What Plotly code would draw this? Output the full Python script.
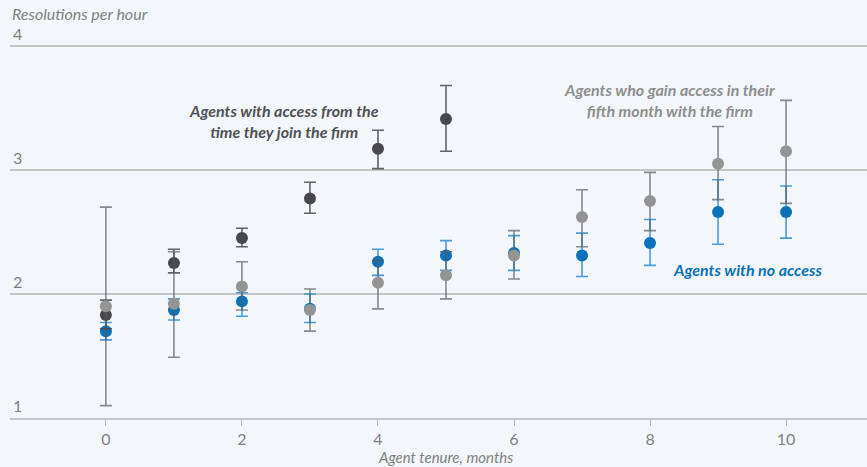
import plotly.graph_objects as go

months = [0, 1, 2, 3, 4, 5, 6, 7, 8, 9, 10]

# Agents with access from the time they join the firm (months 0-5)
early_x = [0, 1, 2, 3, 4, 5]
early_y = [1.83, 2.25, 2.45, 2.77, 3.17, 3.41]
early_hi = [1.95, 2.36, 2.53, 2.90, 3.32, 3.68]
early_lo = [1.72, 2.17, 2.38, 2.65, 3.01, 3.15]

# Agents who gain access in their fifth month
late_y = [1.90, 1.92, 2.06, 1.87, 2.09, 2.15, 2.31, 2.62, 2.75, 3.05, 3.15]
late_hi = [2.70, 2.34, 2.26, 2.04, 2.27, 2.34, 2.51, 2.84, 2.98, 3.35, 3.56]
late_lo = [1.10, 1.49, 1.87, 1.70, 1.88, 1.96, 2.12, 2.38, 2.51, 2.76, 2.73]

# Agents with no access
none_y = [1.70, 1.87, 1.94, 1.88, 2.26, 2.31, 2.33, 2.31, 2.41, 2.66, 2.66]
none_hi = [1.77, 1.96, 2.01, 2.00, 2.36, 2.43, 2.47, 2.49, 2.60, 2.92, 2.87]
none_lo = [1.63, 1.79, 1.82, 1.77, 2.15, 2.19, 2.19, 2.14, 2.23, 2.40, 2.45]

x_ticks = [0, 2, 4, 6, 8, 10]
y_ticks = [1, 2, 3, 4]

FONT = "Lato"
BG = "#f3f7fb"

def errs(y, hi, lo):
    return [h - v for h, v in zip(hi, y)], [v - l for v, l in zip(y, lo)]

fig = go.Figure()

up, dn = errs(none_y, none_hi, none_lo)
fig.add_trace(go.Scatter(
    x=months, y=none_y, mode="markers",
    marker=dict(color="#0a72ba", size=12),
    error_y=dict(type="data", symmetric=False, array=up, arrayminus=dn,
                 color="rgba(40,140,210,0.85)", thickness=1.6, width=6),
    showlegend=False, name="Agents with no access"))

up, dn = errs(early_y, early_hi, early_lo)
fig.add_trace(go.Scatter(
    x=early_x, y=early_y, mode="markers",
    marker=dict(color="#47474c", size=12),
    error_y=dict(type="data", symmetric=False, array=up, arrayminus=dn,
                 color="rgba(70,70,75,0.85)", thickness=1.6, width=6),
    showlegend=False, name="Agents with access from the time they join the firm"))

up, dn = errs(late_y, late_hi, late_lo)
fig.add_trace(go.Scatter(
    x=months, y=late_y, mode="markers",
    marker=dict(color="#949494", size=12),
    error_y=dict(type="data", symmetric=False, array=up, arrayminus=dn,
                 color="rgba(90,90,90,0.7)", thickness=1.6, width=6),
    showlegend=False, name="Agents who gain access in their fifth month"))

# plot area: y=1 at 418px, y=4 at 46px; top margin 21px -> height 397px
PH = 397.0
def py(px):
    return (418 - px) / PH

annotations = [
    dict(x=2.62, y=3.39, xref="x", yref="y",
         text="<b><i>Agents with access from the<br>time they join the firm</i></b>",
         showarrow=False, font=dict(family=FONT, size=16, color="#505055"), align="center"),
    dict(x=8.29, y=3.565, xref="x", yref="y",
         text="<b><i>Agents who gain access in their<br>fifth month with the firm</i></b>",
         showarrow=False, font=dict(family=FONT, size=16, color="#8e8e8e"), align="center"),
    dict(x=9.44, y=2.20, xref="x", yref="y",
         text="<b><i>Agents with no access</i></b>",
         showarrow=False, font=dict(family=FONT, size=16, color="#0a72ba"), align="center"),
    dict(x=5, y=py(457), xref="x", yref="paper",
         text="<i>Agent tenure, months</i>", showarrow=False,
         font=dict(family=FONT, size=15, color="#808080"), yanchor="middle"),
    dict(x=0, y=py(14), xref="paper", yref="paper", xanchor="left", yanchor="middle",
         text="<i>Resolutions per hour</i>", showarrow=False,
         font=dict(family=FONT, size=16, color="#808080")),
]

fig.update_layout(
    width=867, height=467,
    margin=dict(l=10, r=0, t=21, b=49),
    paper_bgcolor=BG, plot_bgcolor=BG,
    font=dict(family=FONT, size=16, color="#808080"),
    annotations=annotations,
    xaxis=dict(range=[-1.41, 11.19], tickvals=x_ticks, showgrid=False, zeroline=False,
               showline=True, linecolor="#c6c6c6", linewidth=1.5,
               ticks="outside", ticklen=6, tickcolor="#b5b5b5", tickwidth=1,
               tickfont=dict(family=FONT, size=16, color="#808080")),
    yaxis=dict(range=[1, 4.2], tickvals=y_ticks, showgrid=True, gridcolor="#c6c6c6",
               gridwidth=1.5, zeroline=False, ticks="", ticklabelposition="inside top",
               tickfont=dict(family=FONT, size=16, color="#808080")),
)

fig.write_html(
    "out.html",
    config={"displayModeBar": False},
    post_script="document.body.style.margin='0';document.body.style.background='#f3f7fb';",
)
